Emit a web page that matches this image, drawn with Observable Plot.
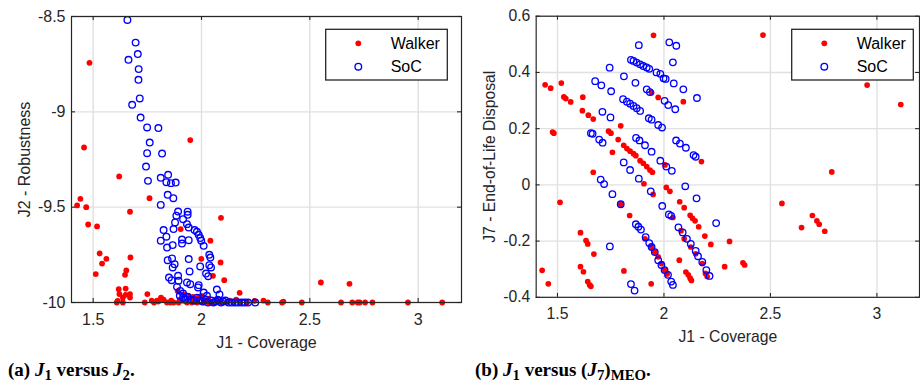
<!DOCTYPE html>
<html>
<head>
<meta charset="utf-8">
<script src="https://cdn.jsdelivr.net/npm/d3@7"></script>
<script src="https://cdn.jsdelivr.net/npm/@observablehq/plot@0.6"></script>
<style>
  html, body { margin: 0; padding: 0; background: #fff; }
  body { width: 920px; height: 386px; overflow: hidden; position: relative;
         font-family: "Liberation Sans", Arial, sans-serif; }
  .panel { position: absolute; top: 0; }
  .panel > svg { display: block; }
  .legend { position: absolute; top: 0; left: 0; overflow: visible; }
  .caption { position: absolute; top: 359px; font-family: "Liberation Serif", "Times New Roman", serif;
             font-weight: bold; font-size: 19px; color: #000; white-space: nowrap; }
  .caption sub { font-size: 0.78em; vertical-align: -0.28em; line-height: 0; }
</style>
</head>
<body>
<div id="panelA" class="panel" style="left:0px"></div>
<div id="panelB" class="panel" style="left:460px"></div>
<div class="caption" style="left:8px">(a) <i>J</i><sub>1</sub> versus <i>J</i><sub>2</sub>.</div>
<div class="caption" style="left:475px">(b) <i>J</i><sub>1</sub> versus (<i>J</i><sub>7</sub>)<sub>MEO</sub>.</div>
<script>
// ---- Panel (a): coverage vs robustness ----
const walkerCoverageA = [
  1.483, 1.458, 1.948, 1.620, 1.441, 1.426, 1.468, 1.670, 1.760, 1.477,
  1.518, 2.090, 1.904, 2.041, 1.530, 1.561, 1.541, 1.672, 1.653, 1.647,
  1.512, 1.999, 2.088, 2.053, 2.105, 2.176, 2.551, 2.683, 1.618, 1.650,
  1.621, 1.650, 1.670, 1.670, 1.637, 1.750, 1.613, 1.637, 1.609, 1.738,
  1.781, 1.795, 1.813, 1.825, 1.841, 1.856, 1.871, 1.894, 1.910, 1.933,
  1.956, 1.979, 2.010, 2.033, 2.056, 2.087, 2.118, 2.148, 2.179, 2.210,
  2.245, 2.286, 2.306, 2.372, 2.378, 2.463, 2.644, 2.696, 2.721, 2.730,
  2.755, 2.789, 2.953, 3.111, 1.920, 1.950, 1.975, 2.000, 2.030, 1.900,
  1.860, 1.800, 1.770, 2.070, 2.130, 2.160, 1.940, 1.960, 1.985, 1.890
];
const walkerRobustness = [
  -8.743, -9.187, -9.148, -9.339, -9.456, -9.491, -9.500, -9.524, -9.453, -9.591,
  -9.601, -9.556, -9.615, -9.676, -9.743, -9.771, -9.796, -9.764, -9.832, -9.855,
  -9.851, -9.771, -9.790, -9.860, -9.883, -9.949, -9.895, -9.902, -9.930, -9.927,
  -9.956, -9.960, -9.956, -9.974, -9.974, -9.956, -9.991, -10, -10, -10,
  -10, -9.990, -9.974, -9.985, -10, -10, -10, -10, -9.990, -10,
  -10, -10, -10, -10, -10, -10, -10, -10, -10, -10,
  -9.991, -9.990, -10, -10, -9.995, -10, -10, -10, -10, -10,
  -10, -10, -10, -10, -9.960, -9.975, -9.980, -9.965, -9.980, -9.985,
  -9.990, -9.995, -9.990, -9.985, -9.990, -9.985, -9.965, -9.970, -9.975, -9.940
];
const socCoverageA = [
  1.658, 1.696, 1.706, 1.663, 1.710, 1.709, 1.715, 1.680, 1.719, 1.749,
  1.801, 1.761, 1.749, 1.818, 1.744, 1.753, 1.812, 1.846, 1.838, 1.859,
  1.881, 1.844, 1.870, 1.812, 1.892, 1.936, 1.936, 1.884, 1.915, 1.878,
  1.871, 1.933, 1.941, 1.968, 1.979, 1.987, 1.994, 1.999, 2.010, 1.825,
  1.838, 1.812, 1.841, 1.867, 1.910, 1.910, 1.941, 2.036, 2.041, 1.941,
  1.844, 1.864, 1.867, 1.876, 1.945, 1.994, 2.021, 2.031, 2.036, 2.044,
  1.850, 1.862, 1.892, 1.894, 1.933, 1.948, 1.987, 1.984, 1.887, 1.902,
  1.915, 2.071, 2.083, 2.010, 2.025,
  1.900, 1.915, 1.925, 1.935, 1.950, 1.965, 1.980, 1.995, 2.005, 2.020,
  2.030, 2.045, 2.055, 2.065, 2.075, 2.090, 2.100, 2.110, 2.125, 2.140,
  2.155, 2.170, 2.185, 2.200, 2.215, 2.248
];
const socRobustness = [
  -8.518, -8.637, -8.697, -8.727, -8.776, -8.832, -8.930, -8.963, -9.030, -9.082,
  -9.085, -9.161, -9.217, -9.219, -9.287, -9.362, -9.346, -9.330, -9.369, -9.374,
  -9.371, -9.435, -9.453, -9.488, -9.523, -9.524, -9.540, -9.545, -9.563, -9.580,
  -9.615, -9.589, -9.607, -9.620, -9.629, -9.645, -9.662, -9.676, -9.703, -9.620,
  -9.655, -9.676, -9.712, -9.699, -9.670, -9.691, -9.673, -9.750, -9.764, -9.772,
  -9.778, -9.769, -9.816, -9.799, -9.837, -9.811, -9.848, -9.862, -9.804, -9.816,
  -9.869, -9.883, -9.860, -9.886, -9.895, -9.904, -9.909, -9.921, -9.918, -9.939,
  -9.953, -9.932, -9.958, -9.948, -9.965,
  -9.965, -9.975, -9.985, -9.970, -9.985, -9.990, -9.975, -9.990, -9.995, -9.985,
  -10, -9.990, -10, -9.995, -9.985, -10, -9.995, -9.990, -10, -10,
  -10, -10, -10, -10, -10, -10
];

// ---- Panel (b): coverage vs end-of-life disposal (MEO) ----
const walkerCoverageB = [
  1.951, 2.465, 2.954, 3.112, 2.788, 2.554, 2.646, 2.697, 2.718, 2.729,
  2.755, 1.442, 1.468, 1.518, 1.530, 1.539, 1.562, 1.619, 1.617, 1.645,
  1.668, 1.477, 1.483, 1.740, 1.751, 1.797, 1.785, 1.811, 1.826, 1.841,
  1.857, 1.868, 1.888, 1.903, 1.919, 1.934, 1.946, 1.758, 1.668, 1.906,
  1.949, 1.512, 2.011, 2.028, 2.074, 2.095, 2.123, 2.134, 2.146, 2.163,
  2.192, 2.220, 2.308, 2.285, 2.371, 2.379, 1.797, 1.839, 1.608, 1.634,
  1.642, 1.671, 1.428, 1.457, 1.608, 1.622, 1.642, 1.651, 1.657, 1.812,
  1.940, 2.072, 2.103, 2.114, 2.123, 2.129, 2.176, 2.091, 1.942, 1.973,
  2.005, 1.911, 1.942, 1.957, 1.973, 1.988, 2.003, 2.015, 2.042, 2.080,
  2.095, 2.126, 2.149, 2.180, 2.195, 2.203
];
const walkerDisposal = [
  0.532, 0.533, 0.355, 0.286, 0.046, -0.066, -0.152, -0.109, -0.128, -0.140,
  -0.165, 0.356, 0.344, 0.362, 0.313, 0.307, 0.295, 0.312, 0.264, 0.248,
  0.234, 0.188, 0.184, 0.191, 0.184, 0.210, 0.161, 0.141, 0.129, 0.120,
  0.111, 0.104, 0.086, 0.077, 0.065, 0.053, 0.045, 0.116, 0.045, 0.004,
  -0.034, -0.062, -0.009, -0.023, -0.060, -0.081, -0.108, -0.119, -0.128, -0.149,
  -0.182, -0.212, -0.201, -0.291, -0.277, -0.285, -0.069, -0.109, -0.170, -0.198,
  -0.210, -0.246, -0.304, -0.352, -0.291, -0.309, -0.344, -0.356, -0.361, -0.306,
  -0.352, -0.268, -0.310, -0.320, -0.332, -0.340, 0.083, 0.296, 0.328, 0.311,
  0.071, -0.192, -0.221, -0.239, -0.256, -0.280, -0.303, -0.317, -0.116, -0.163,
  -0.192, -0.221, -0.245, -0.280, -0.315, -0.326
];
const socCoverageB = [
  1.882, 2.025, 2.058, 2.042, 1.745, 1.845, 1.857, 1.872, 1.888, 1.903,
  1.919, 1.931, 1.965, 1.983, 1.998, 2.008, 2.046, 2.091, 2.155, 1.812,
  1.866, 1.677, 1.706, 1.752, 1.919, 1.934, 2.003, 2.020, 2.053, 1.808,
  1.826, 1.841, 1.857, 1.872, 1.888, 1.929, 1.942, 1.973, 1.991, 1.711,
  1.749, 1.657, 1.665, 1.696, 1.712, 1.869, 1.885, 1.911, 1.942, 1.983,
  2.011, 2.037, 2.057, 2.075, 2.103, 2.139, 2.149, 1.811, 1.841, 1.882,
  1.703, 1.719, 1.758, 1.938, 2.100, 2.153, 1.797, 1.992, 2.023, 2.034,
  2.068, 2.088, 2.108, 2.126, 2.149, 2.160, 2.180, 2.199, 2.214, 2.245,
  1.868, 1.880, 1.892, 1.914, 1.931, 1.942, 1.957, 1.973, 1.988, 2.003,
  2.019, 2.034, 2.042, 1.746, 1.845, 1.862
];
const socDisposal = [
  0.497, 0.507, 0.495, 0.436, 0.417, 0.445, 0.441, 0.435, 0.429, 0.423,
  0.418, 0.413, 0.400, 0.395, 0.379, 0.377, 0.361, 0.340, 0.309, 0.386,
  0.363, 0.369, 0.354, 0.333, 0.340, 0.330, 0.299, 0.284, 0.269, 0.305,
  0.296, 0.289, 0.281, 0.273, 0.263, 0.237, 0.232, 0.213, 0.204, 0.260,
  0.240, 0.184, 0.182, 0.161, 0.150, 0.167, 0.158, 0.141, 0.118, 0.086,
  0.065, 0.050, 0.158, 0.147, 0.132, 0.106, 0.100, 0.080, 0.053, 0.022,
  0.019, 0.003, -0.033, -0.023, -0.005, -0.048, -0.069, -0.075, -0.105, -0.110,
  -0.151, -0.169, -0.192, -0.210, -0.235, -0.254, -0.274, -0.303, -0.324, -0.136,
  -0.140, -0.149, -0.159, -0.186, -0.207, -0.221, -0.239, -0.268, -0.285, -0.303,
  -0.320, -0.344, -0.356, -0.219, -0.353, -0.376
];

// Series, ticks and axis labels
const seriesNames = ["Walker", "SoC"];
const seriesColors = ["#ff0000", "#0000ff"];
const coverageTicks = [1.5, 2, 2.5, 3];
const robustnessTicks = [-10, -9.5, -9, -8.5];
const disposalTicks = [-0.4, -0.2, 0, 0.2, 0.4, 0.6];
const xLabel = "J1 - Coverage";
const yLabelA = "J2 - Robustness";
const yLabelB = "J7 - End-of-Life Disposal";

// Layout (pixels)
const FRAME_W = 390, FRAME_H = 286, TICK = 4;
const M_TOP = 16, M_BOTTOM = 54;
const INK = "#262626";
const FONT = '"Liberation Sans", Arial, Helvetica, sans-serif';

function zip(xs, ys) { return xs.map((x, i) => ({x, y: ys[i]})); }

function drawPanel(container, {walkerX, walkerY, socX, socY, yDomain, yTicks, yLabel, marginLeft}) {
  const width = marginLeft + FRAME_W + 1;
  const chart = Plot.plot({
    width,
    height: M_TOP + FRAME_H + M_BOTTOM,
    marginLeft, marginRight: 1, marginTop: M_TOP, marginBottom: M_BOTTOM,
    style: {fontFamily: FONT, fontSize: "16px", color: INK, background: "transparent", overflow: "visible"},
    x: {domain: [1.4, 3.2]},
    y: {domain: yDomain},
    marks: [
      Plot.gridX(coverageTicks, {stroke: "#e0e0e0", strokeOpacity: 1, strokeWidth: 1.4}),
      Plot.gridY(yTicks, {stroke: "#e0e0e0", strokeOpacity: 1, strokeWidth: 1.4}),
      Plot.dot(zip(walkerX, walkerY), {x: "x", y: "y", r: 2.9, fill: seriesColors[0], stroke: "none"}),
      Plot.dot(zip(socX, socY), {x: "x", y: "y", r: 3.3, stroke: seriesColors[1], strokeWidth: 1.35, fill: "none"}),
      Plot.frame({stroke: INK, strokeWidth: 1.2}),
      // inward tick marks on all four sides
      Plot.tickX(coverageTicks, {x: d => d, insetTop: FRAME_H - TICK, stroke: INK, strokeWidth: 1.1}),
      Plot.tickX(coverageTicks, {x: d => d, insetBottom: FRAME_H - TICK, stroke: INK, strokeWidth: 1.1}),
      Plot.tickY(yTicks, {y: d => d, insetRight: FRAME_W - TICK, stroke: INK, strokeWidth: 1.1}),
      Plot.tickY(yTicks, {y: d => d, insetLeft: FRAME_W - TICK, stroke: INK, strokeWidth: 1.1}),
      Plot.axisX(coverageTicks, {tickSize: 0, tickPadding: 11, tickFormat: d => String(d), label: null, fontSize: 16}),
      Plot.axisY(yTicks, {tickSize: 0, tickPadding: 6, tickFormat: d => String(d), label: null, fontSize: 16}),
      Plot.text([xLabel], {text: d => d, frameAnchor: "bottom", textAnchor: "middle", lineAnchor: "middle", dy: 40, fontSize: 16, fill: INK}),
      Plot.text([yLabel], {text: d => d, frameAnchor: "left", textAnchor: "middle", lineAnchor: "middle", rotate: -90, dx: -47, fontSize: 16, fill: INK})
    ]
  });
  container.appendChild(chart);

  // legend box in the upper-right corner of the plotting frame
  const LW = 121.6, LH = 50.7;
  const lx = marginLeft + FRAME_W - 13.7 - LW, ly = 29.3;
  const legend = d3.select(container).append("svg")
    .attr("class", "legend").attr("width", width).attr("height", 120);
  legend.append("rect")
    .attr("x", lx).attr("y", ly).attr("width", LW).attr("height", LH)
    .attr("fill", "#fff").attr("stroke", INK).attr("stroke-width", 1.3);
  const rows = [14, 37.4];
  seriesNames.forEach((name, i) => {
    const cy = ly + rows[i];
    if (i === 0) {
      legend.append("circle").attr("cx", lx + 32.6).attr("cy", cy).attr("r", 2.9).attr("fill", seriesColors[0]);
    } else {
      legend.append("circle").attr("cx", lx + 32.6).attr("cy", cy).attr("r", 3.3)
        .attr("fill", "none").attr("stroke", seriesColors[1]).attr("stroke-width", 1.35);
    }
    legend.append("text").attr("x", lx + 65).attr("y", cy).attr("dy", "0.35em")
      .attr("font-family", FONT).attr("font-size", 16).attr("fill", "#000").text(name);
  });
}

drawPanel(document.getElementById("panelA"), {
  walkerX: walkerCoverageA, walkerY: walkerRobustness,
  socX: socCoverageA, socY: socRobustness,
  yDomain: [-10, -8.5], yTicks: robustnessTicks, yLabel: yLabelA, marginLeft: 71
});
drawPanel(document.getElementById("panelB"), {
  walkerX: walkerCoverageB, walkerY: walkerDisposal,
  socX: socCoverageB, socY: socDisposal,
  yDomain: [-0.4, 0.6], yTicks: disposalTicks, yLabel: yLabelB, marginLeft: 77
});
</script>
</body>
</html>
